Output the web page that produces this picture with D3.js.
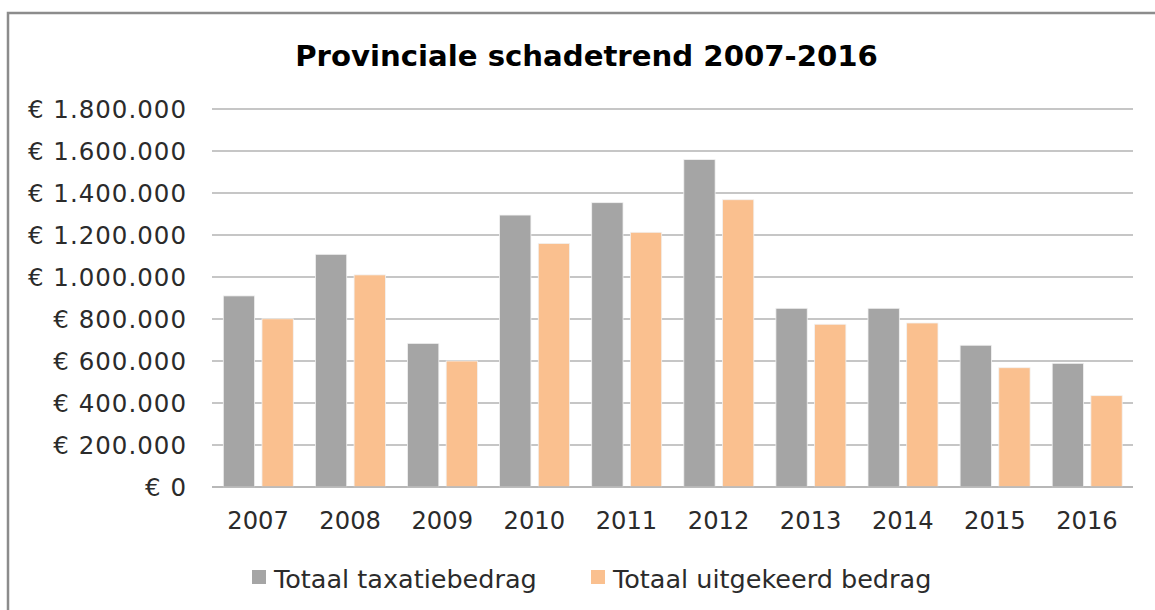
<!DOCTYPE html>
<html><head><meta charset="utf-8">
<script src="https://cdn.jsdelivr.net/npm/d3@7"></script>
<style>body{margin:0;background:#fff}svg{display:block}</style>
</head><body>
<svg id="c" width="1155" height="610"></svg>
<script>
const categories = ["2007","2008","2009","2010","2011","2012","2013","2014","2015","2016"];
const seriesNames = ["Totaal taxatiebedrag","Totaal uitgekeerd bedrag"];
const taxatie = [910000,1108000,684000,1295000,1354000,1559000,851000,851000,675000,589000];
const uitgekeerd = [801000,1010000,600000,1160000,1213000,1368000,775000,781000,568000,435000];
const yTicks = [0,200000,400000,600000,800000,1000000,1200000,1400000,1600000,1800000];
const colors = ["#a5a5a5","#fac08f"];
const title = "Provinciale schadetrend 2007-2016";

const svg = d3.select("#c");
const FONT = "DejaVu Sans, Verdana, sans-serif";
// frame
svg.append("rect").attr("x",8).attr("y",13).attr("width",1160).attr("height",620)
  .attr("fill","#fff").attr("stroke","#8c8c8c").attr("stroke-width",2.5);

const L=212, R=1133, T=109, B=487;
const x0 = d3.scaleBand().domain(categories).range([L,R]).paddingInner(0).paddingOuter(0);
const x1 = d3.scaleBand().domain([0,1]).range([11.3, x0.bandwidth()-10.8]).paddingInner(0.19);
const y = d3.scaleLinear().domain([0,1800000]).range([B,T]);

const fmt = v => "€ " + d3.format(",")(v).replace(/,/g,".");

// gridlines
svg.append("g").selectAll("line").data(yTicks).join("line")
  .attr("x1",L).attr("x2",R).attr("y1",d=>y(d)).attr("y2",d=>y(d))
  .attr("stroke","#b3b3b3").attr("stroke-width",1.6);

// y labels
svg.append("g").selectAll("text").data(yTicks).join("text")
  .attr("x",187).attr("y",d=>y(d)).attr("dy","0.36em").attr("text-anchor","end")
  .attr("font-family",FONT).attr("font-size",24.5).attr("letter-spacing",1)
  .attr("fill","#2b2b2b").text(fmt);

// bars
const data = categories.map((c,i)=>({c, v:[taxatie[i],uitgekeerd[i]]}));
const g = svg.append("g").selectAll("g").data(data).join("g")
  .attr("transform",d=>`translate(${x0(d.c)},0)`);
g.selectAll("rect").data(d=>d.v.map((v,k)=>({v,k}))).join("rect")
  .attr("x",d=>x1(d.k)).attr("width",x1.bandwidth())
  .attr("y",d=>y(d.v)).attr("height",d=>B-y(d.v))
  .attr("fill",d=>colors[d.k]).attr("stroke","#f2f2f2").attr("stroke-width",0.8);

// baseline
svg.append("line").attr("x1",L).attr("x2",R).attr("y1",B).attr("y2",B)
  .attr("stroke","#b3b3b3").attr("stroke-width",1.6);

// x labels
svg.append("g").selectAll("text").data(categories).join("text")
  .attr("x",d=>x0(d)+x0.bandwidth()/2).attr("y",529).attr("text-anchor","middle")
  .attr("font-family",FONT).attr("font-size",24.2).attr("fill","#2b2b2b").text(d=>d);

// title
const t = svg.append("text").attr("x",586.5).attr("y",66).attr("text-anchor","middle")
  .attr("font-family",FONT).attr("font-weight","bold").attr("font-size",24).attr("fill","#000").text(title);
const w = t.node().getComputedTextLength();
t.attr("font-size", 24*583/w);

// legend
const legX = [252, 591];
const lg = svg.append("g").selectAll("g").data(seriesNames).join("g")
  .attr("transform",(d,i)=>`translate(${legX[i]},0)`);
lg.append("rect").attr("x",0).attr("y",570).attr("width",14).attr("height",14).attr("fill",(d,i)=>colors[i]);
lg.append("text").attr("x",22).attr("y",588).attr("font-family",FONT).attr("font-size",25.5)
  .attr("fill","#2b2b2b").text(d=>d);
</script>
</body></html>
